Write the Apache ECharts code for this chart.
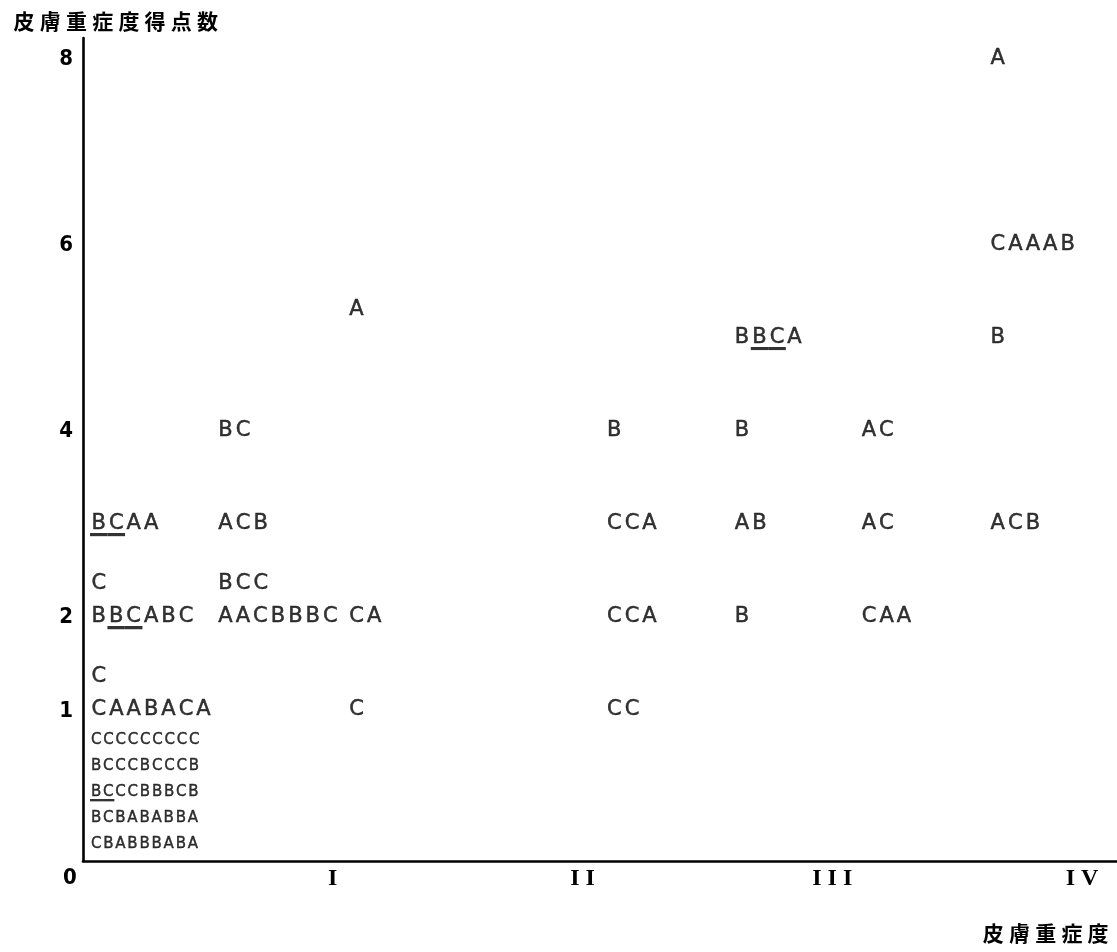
<!DOCTYPE html>
<html><head><meta charset="utf-8">
<script src="https://cdn.jsdelivr.net/npm/echarts@6/dist/echarts.min.js"></script>
<style>html,body{margin:0;padding:0;background:#fff}#c{width:1117px;height:952px}</style>
</head><body><div id="c"></div>
<script>
// ---------- data ----------
const yAxisTitle = '皮膚重症度得点数';
const xAxisTitle = '皮膚重症度';
const gradeTicks = [0, 1, 2, 3, 4];
const gradeLabels = ['0', 'I', 'I I', 'I I I', 'I V'];
const scoreTicks = [1, 2, 4, 6, 8];
// grade position of each column of letters
const columnGrade = [0.026, 0.534, 1.058, 2.09, 2.602, 3.11, 3.626];
// [column, score, line, letters, underlineStart, underlineLength]
const patientRows = [
  [0, 3, 0, 'BCAA', 0, 2],
  [0, 2, 1, 'C'],
  [0, 2, 0, 'BBCABC', 1, 2],
  [0, 1, 1, 'C'],
  [0, 1, 0, 'CAABACA'],
  [0, 0, 4, 'CCCCCCCCC'],
  [0, 0, 3, 'BCCCBCCCB'],
  [0, 0, 2, 'BCCCBBBCB', 0, 2],
  [0, 0, 1, 'BCBABABBA'],
  [0, 0, 0, 'CBABBBABA'],
  [1, 4, 0, 'BC'],
  [1, 3, 0, 'ACB'],
  [1, 2, 1, 'BCC'],
  [1, 2, 0, 'AACBBBC'],
  [2, 5.3, 0, 'A'],
  [2, 2, 0, 'CA'],
  [2, 1, 0, 'C'],
  [3, 4, 0, 'B'],
  [3, 3, 0, 'CCA'],
  [3, 2, 0, 'CCA'],
  [3, 1, 0, 'CC'],
  [4, 5, 0, 'BBCA', 1, 2],
  [4, 4, 0, 'B'],
  [4, 3, 0, 'AB'],
  [4, 2, 0, 'B'],
  [5, 4, 0, 'AC'],
  [5, 3, 0, 'AC'],
  [5, 2, 0, 'CAA'],
  [6, 8, 0, 'A'],
  [6, 6, 0, 'CAAAB'],
  [6, 5, 0, 'B'],
  [6, 3, 0, 'ACB']
];

// ---------- chart ----------
const chart = echarts.init(document.getElementById('c'), null, {renderer: 'canvas'});
const INK = '#000';
const under = new echarts.graphic.LinearGradient(0, 0, 0, 1, [
  {offset: 0, color: 'rgba(0,0,0,0)'},
  {offset: 0.87, color: 'rgba(0,0,0,0)'},
  {offset: 0.871, color: INK},
  {offset: 1, color: INK}
]);
const big = {fontFamily: 'DejaVu Sans', fontSize: 21, color: INK, textBorderColor: INK, textBorderWidth: 0.5,
  padding: [0, 1.5, 2, 1.5]};
const small = {fontFamily: 'DejaVu Sans', fontSize: 15, color: INK, textBorderColor: INK, textBorderWidth: 0.4,
  padding: [0, 0.9, 2, 0.9]};

const seriesData = patientRows.map(r => ({
  value: [columnGrade[r[0]], r[1]],
  letters: r[3],
  ul: r[4] != null ? [r[4], r[5]] : null,
  small: r[1] === 0
}));
// vertical stacking of extra lines of letters belonging to the same score
const lineShift = patientRows.map(r => r[1] === 0 ? 41 - 26 * r[2] : -33 * r[2]);

function spaced(text, style) {
  return text.split('').map(ch => '{' + style + '|' + ch + '}').join('');
}

chart.setOption({
  animation: false,
  backgroundColor: '#fff',
  title: [
    {text: spaced(yAxisTitle, 'c'), left: 6, top: 6,
     textStyle: {rich: {c: {fontFamily: 'Noto Sans CJK JP', fontWeight: 'bold', fontSize: 21, color: INK, padding: [0, 2.6]}}}},
    {text: spaced(xAxisTitle, 'c'), right: 6, top: 918,
     textStyle: {rich: {c: {fontFamily: 'Noto Sans CJK JP', fontWeight: 'bold', fontSize: 21, color: INK, padding: [0, 2.6]}}}}
  ],
  grid: {left: 83, right: 0, top: 38, bottom: 91},
  xAxis: {
    type: 'value', min: 0, max: 4.14,
    axisLine: {show: true, onZero: false, lineStyle: {color: INK, width: 2.6}},
    axisTick: {show: false},
    splitLine: {show: false},
    axisLabel: {
      customValues: gradeTicks,
      margin: 6,
      formatter: v => {
        const i = gradeTicks.indexOf(v);
        return i === 0 ? '{z|' + gradeLabels[i] + '}' : '{r|' + gradeLabels[i] + '}';
      },
      rich: {
        z: {fontFamily: 'DejaVu Sans Condensed', fontWeight: 'bold', fontSize: 22, color: INK, padding: [0, 26, 0, 0]},
        r: {fontFamily: 'Liberation Serif', fontWeight: 'bold', fontSize: 24, color: INK}
      }
    }
  },
  yAxis: {
    type: 'value', min: -0.614, max: 8.23,
    axisLine: {show: true, onZero: false, lineStyle: {color: INK, width: 2.6}},
    axisTick: {show: false},
    splitLine: {show: false},
    axisLabel: {
      customValues: scoreTicks,
      margin: 10,
      fontFamily: 'DejaVu Sans Condensed', fontWeight: 'bold', fontSize: 22, color: INK
    }
  },
  series: [{
    type: 'scatter',
    silent: true,
    symbolSize: 1,
    itemStyle: {color: 'rgba(0,0,0,0)'},
    data: seriesData,
    label: {
      show: true,
      position: 'right',
      distance: 0,
      color: INK,
      formatter: p => {
        const d = p.data;
        const base = d.small ? 's' : 'n';
        return d.letters.split('').map((ch, i) => {
          const u = d.ul && i >= d.ul[0] && i < d.ul[0] + d.ul[1];
          return '{' + base + (u ? 'u' : '') + '|' + ch + '}';
        }).join('');
      },
      rich: {
        n: big,
        nu: Object.assign({}, big, {backgroundColor: under}),
        s: small,
        su: Object.assign({}, small, {backgroundColor: under})
      }
    },
    labelLayout: p => ({dy: lineShift[p.dataIndex], hideOverlap: false})
  }]
});
</script>
</body></html>
